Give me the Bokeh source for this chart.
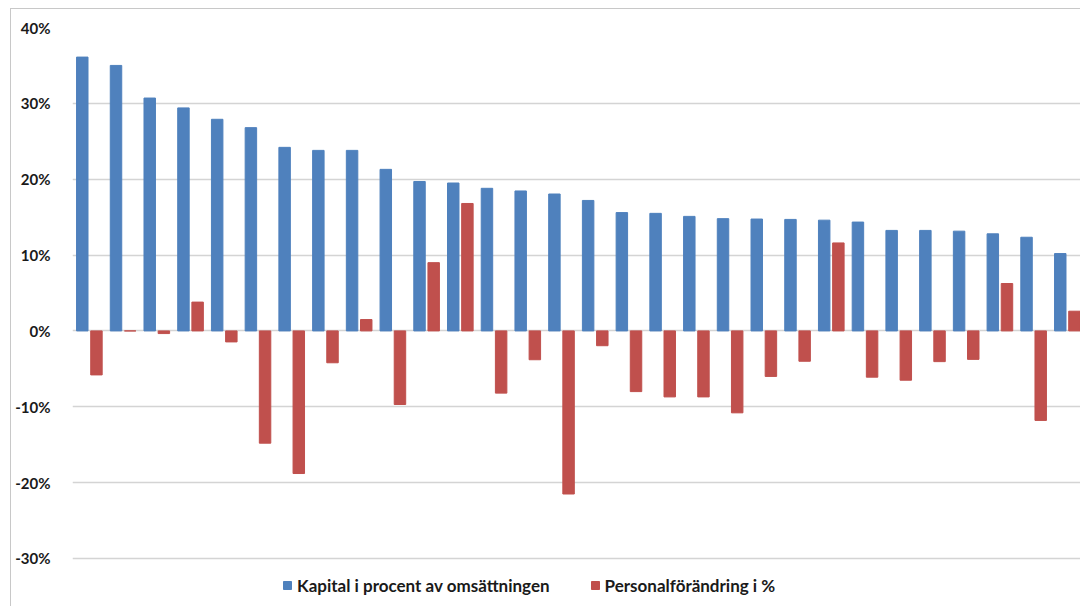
from bokeh.plotting import figure
from bokeh.models import ColumnDataSource, FixedTicker, PrintfTickFormatter, Legend, LegendItem, Range1d
from bokeh.transform import dodge
from bokeh.embed import file_html
from bokeh.resources import INLINE

idx = list(range(30))
kapital = [36.1, 35.0, 30.7, 29.4, 27.9, 26.8, 24.2, 23.8, 23.8, 21.3,
           19.7, 19.5, 18.8, 18.45, 18.05, 17.2, 15.6, 15.5, 15.1, 14.8,
           14.75, 14.7, 14.6, 14.35, 13.25, 13.25, 13.15, 12.8, 12.35, 10.2]
personal = [-5.8, 0.0, -0.35, 3.8, -1.45, -14.8, -18.8, -4.2, 1.5, -9.7,
            9.0, 16.8, -8.2, -3.8, -21.5, -1.95, -8.0, -8.7, -8.7, -10.8,
            -6.0, -4.0, 11.6, -6.1, -6.5, -4.05, -3.75, 6.25, -11.8, 2.6]
y_ticks = [-30, -20, -10, 0, 10, 20, 30, 40]
series_names = ["Kapital i procent av omsättningen", "Personalförändring i %"]

src = ColumnDataSource(dict(x=idx, kapital=kapital, personal=personal))

# frame runs to the bottom of the page so the legend can sit inside it
p = figure(frame_width=1008, frame_height=579, output_backend="svg", toolbar_location=None,
           x_range=Range1d(-0.5, 29.39), y_range=Range1d(-36.33, 40),
           x_axis_location=None, min_border_left=61, min_border_right=0,
           min_border_top=18, min_border_bottom=0)
p.styles = {"margin-left": "10px", "margin-top": "8px",
            "border-left": "1px solid #c8c8c8", "border-top": "1px solid #c8c8c8"}
p.outline_line_color = None
p.background_fill_color = "white"
p.border_fill_color = "white"

r1 = p.vbar(x=dodge("x", -0.21, range=p.x_range), top="kapital", width=0.34, source=src,
            fill_color="#4F81BD", line_color="#4F81BD")
r2 = p.vbar(x=dodge("x", 0.21, range=p.x_range), top="personal", width=0.34, source=src,
            fill_color="#C0504D", line_color="#C0504D")

p.xgrid.visible = False
p.ygrid.grid_line_color = "#d4d4d4"
p.ygrid.grid_line_width = 1.5
p.yaxis.ticker = FixedTicker(ticks=y_ticks)
p.yaxis.formatter = PrintfTickFormatter(format="%d%%")
p.yaxis.axis_line_color = None
p.yaxis.major_tick_line_color = None
p.yaxis.minor_tick_line_color = None
p.yaxis.major_label_standoff = 16
p.yaxis.major_label_text_font = "Lato"
p.yaxis.major_label_text_font_style = "bold"
p.yaxis.major_label_text_font_size = "15px"
p.yaxis.major_label_text_color = "#1a1a1a"

legend = Legend(items=[LegendItem(label=series_names[0], renderers=[r1]),
                       LegendItem(label=series_names[1], renderers=[r2])],
                orientation="horizontal", location=(210, 9),
                label_text_font="Lato", label_text_font_style="bold",
                label_text_font_size="17px", label_text_color="#1a1a1a",
                glyph_width=10, glyph_height=10, spacing=40, label_standoff=5,
                label_height=24, border_line_color=None, background_fill_alpha=0,
                padding=0, margin=0)
p.add_layout(legend, "center")

open("out.html", "w").write(file_html(p, INLINE))
